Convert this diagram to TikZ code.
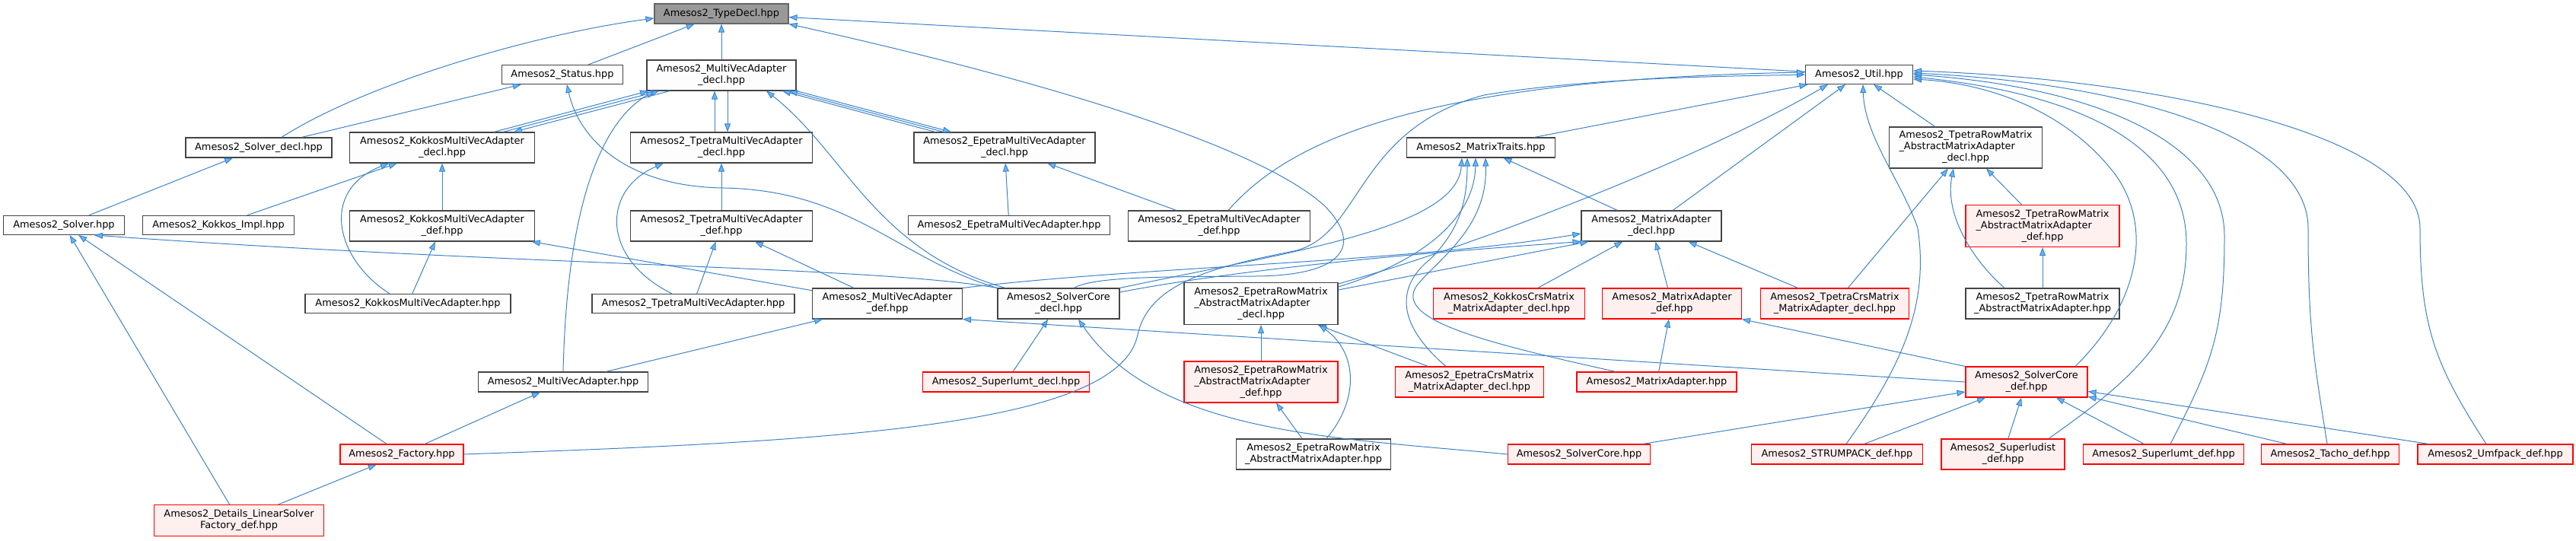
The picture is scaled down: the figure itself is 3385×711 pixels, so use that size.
\documentclass[tikz,border=0pt]{standalone}
\usepackage{fontspec}
\setmainfont{DejaVu Sans}
\usetikzlibrary{arrows.meta}
\definecolor{edgeblue}{RGB}{60,130,200}
\definecolor{tipblue}{RGB}{99,184,255}
\definecolor{boxline}{RGB}{68,68,68}
\definecolor{boxfill}{RGB}{252,253,252}
\definecolor{redfill}{RGB}{255,240,240}
\definecolor{rootfill}{RGB}{153,153,153}
\definecolor{rootline}{RGB}{102,102,102}
\newcommand{\hdrlabel}[3]{\begin{tabular}{@{}l@{}}#1\\#2\\\multicolumn{1}{@{}c@{}}{#3}\end{tabular}}

\begin{document}
\begin{tikzpicture}
  [x=1pt,y=-1pt,
   hdr/.style={draw=boxline,fill=boxfill,line width=1.1pt,inner sep=0pt,align=center,font=\fontsize{12.9}{15}\selectfont},
   bad/.style={hdr,draw=red,fill=redfill},
   root/.style={hdr,draw=rootline,fill=rootfill},
   sz/.style 2 args={minimum width=#1pt,minimum height=#2pt},
   dep/.style={draw=edgeblue,line width=1pt,-{Triangle[length=11pt,width=8pt,fill=tipblue]}}]
  \useasboundingbox (0,0) rectangle (3385,711);

  \node[root,sz={176}{26}] (typedecl) at (948,18) {Amesos2\_TypeDecl.hpp};
  \node[hdr,sz={159}{25}] (status) at (739,98) {Amesos2\_Status.hpp};
  \node[hdr,sz={196}{40}] (mvadecl) at (948,99) {Amesos2\_MultiVecAdapter\\\_decl.hpp};
  \node[hdr,sz={141}{25}] (util) at (2443,98) {Amesos2\_Util.hpp};
  \node[hdr,sz={192}{26}] (solverdecl) at (340,194) {Amesos2\_Solver\_decl.hpp};
  \node[hdr,sz={243}{40}] (kmvadecl) at (581,194) {Amesos2\_KokkosMultiVecAdapter\\\_decl.hpp};
  \node[hdr,sz={239}{40}] (tmvadecl) at (948,194) {Amesos2\_TpetraMultiVecAdapter\\\_decl.hpp};
  \node[hdr,sz={238}{40}] (emvadecl) at (1320,194) {Amesos2\_EpetraMultiVecAdapter\\\_decl.hpp};
  \node[hdr,sz={195}{26}] (traits) at (1946,194) {Amesos2\_MatrixTraits.hpp};
  \node[hdr,sz={201}{54}] (trmdecl) at (2583,194) {\hdrlabel{Amesos2\_TpetraRowMatrix}{\_AbstractMatrixAdapter}{\_decl.hpp}};
  \node[hdr,sz={159}{25}] (solver) at (84,296) {Amesos2\_Solver.hpp};
  \node[hdr,sz={199}{25}] (kokkosimpl) at (287,296) {Amesos2\_Kokkos\_Impl.hpp};
  \node[hdr,sz={243}{40}] (kmvadef) at (581,297) {Amesos2\_KokkosMultiVecAdapter\\\_def.hpp};
  \node[hdr,sz={239}{40}] (tmvadef) at (948,297) {Amesos2\_TpetraMultiVecAdapter\\\_def.hpp};
  \node[hdr,sz={265}{25}] (emvahpp) at (1326,296) {Amesos2\_EpetraMultiVecAdapter.hpp};
  \node[hdr,sz={239}{40}] (emvadef) at (1602,297) {Amesos2\_EpetraMultiVecAdapter\\\_def.hpp};
  \node[hdr,sz={184}{40}] (madecl) at (2170,297) {Amesos2\_MatrixAdapter\\\_decl.hpp};
  \node[bad,sz={202}{55}] (trmdef) at (2684,297) {\hdrlabel{Amesos2\_TpetraRowMatrix}{\_AbstractMatrixAdapter}{\_def.hpp}};
  \node[hdr,sz={270}{25}] (kmvahpp) at (536,399) {Amesos2\_KokkosMultiVecAdapter.hpp};
  \node[hdr,sz={266}{25}] (tmvahpp) at (911,399) {Amesos2\_TpetraMultiVecAdapter.hpp};
  \node[hdr,sz={197}{40}] (mvadef) at (1166,399) {Amesos2\_MultiVecAdapter\\\_def.hpp};
  \node[hdr,sz={160}{40}] (scdecl) at (1391,399) {Amesos2\_SolverCore\\\_decl.hpp};
  \node[hdr,sz={202}{55}] (ermdecl) at (1657,399) {\hdrlabel{Amesos2\_EpetraRowMatrix}{\_AbstractMatrixAdapter}{\_decl.hpp}};
  \node[bad,sz={199}{40}] (kcrsdecl) at (1983,399) {Amesos2\_KokkosCrsMatrix\\\_MatrixAdapter\_decl.hpp};
  \node[bad,sz={183}{40}] (madef) at (2197,399) {Amesos2\_MatrixAdapter\\\_def.hpp};
  \node[bad,sz={195}{40}] (tcrsdecl) at (2411,399) {Amesos2\_TpetraCrsMatrix\\\_MatrixAdapter\_decl.hpp};
  \node[hdr,sz={202}{40}] (trmhpp) at (2684,399) {Amesos2\_TpetraRowMatrix\\\_AbstractMatrixAdapter.hpp};
  \node[hdr,sz={223}{26}] (mvahpp) at (740,502) {Amesos2\_MultiVecAdapter.hpp};
  \node[bad,sz={219}{26}] (sludecl) at (1322,502) {Amesos2\_Superlumt\_decl.hpp};
  \node[bad,sz={202}{54}] (ermdef) at (1657,502) {\hdrlabel{Amesos2\_EpetraRowMatrix}{\_AbstractMatrixAdapter}{\_def.hpp}};
  \node[bad,sz={195}{40}] (ecrsdecl) at (1931,502) {Amesos2\_EpetraCrsMatrix\\\_MatrixAdapter\_decl.hpp};
  \node[bad,sz={210}{26}] (mahpp) at (2177,502) {Amesos2\_MatrixAdapter.hpp};
  \node[bad,sz={160}{40}] (scdef) at (2663,502) {Amesos2\_SolverCore\\\_def.hpp};
  \node[bad,sz={162}{26}] (factory) at (528,597) {Amesos2\_Factory.hpp};
  \node[hdr,sz={203}{40}] (ermhpp) at (1726,597) {Amesos2\_EpetraRowMatrix\\\_AbstractMatrixAdapter.hpp};
  \node[bad,sz={187}{26}] (schpp) at (2075,597) {Amesos2\_SolverCore.hpp};
  \node[bad,sz={225}{26}] (strumpack) at (2414,597) {Amesos2\_STRUMPACK\_def.hpp};
  \node[bad,sz={162}{40}] (sludist) at (2632,597) {Amesos2\_Superludist\\\_def.hpp};
  \node[bad,sz={211}{26}] (slumtdef) at (2843,597) {Amesos2\_Superlumt\_def.hpp};
  \node[bad,sz={181}{26}] (tacho) at (3062,597) {Amesos2\_Tacho\_def.hpp};
  \node[bad,sz={204}{26}] (umfpack) at (3279,597) {Amesos2\_Umfpack\_def.hpp};
  \node[bad,sz={223}{41}] (lsfdef) at (314,684) {Amesos2\_Details\_LinearSolver\\Factory\_def.hpp};

  \foreach \from/\to in {status/typedecl,solverdecl/status,mvadecl/typedecl,util/typedecl,
      solver/solverdecl,kokkosimpl/kmvadecl,kmvadef/kmvadecl,kmvahpp/kmvadef,tmvadef/tmvadecl,
      tmvahpp/tmvadef,emvahpp/emvadecl,emvadef/emvadecl,factory/mvahpp,factory/solver,
      lsfdef/factory,lsfdef/solver,mvahpp/mvadef,sludecl/scdecl,traits/util,madecl/traits,
      madecl/util,trmdecl/util,trmdef/trmdecl,trmhpp/trmdef,tcrsdecl/trmdecl,tcrsdecl/madecl,
      kcrsdecl/madecl,madef/madecl,mahpp/madef,ermdef/ermdecl,ermhpp/ermdef,ecrsdecl/ermdecl,
      schpp/scdef,strumpack/scdef,sludist/scdef,slumtdef/scdef,tacho/scdef,umfpack/scdef,
      mvadef/tmvadef,mvadef/kmvadef}
    \draw[dep] (\from) -- (\to);

  \draw[dep] ([xshift=68pt]kmvadecl.north) -- ([xshift=-96pt]mvadecl.south);
  \draw[dep] ([xshift=80pt]kmvadecl.north) -- ([xshift=-82pt]mvadecl.south);
  \draw[dep] ([xshift=-68pt]mvadecl.south) -- ([xshift=94pt]kmvadecl.north);
  \draw[dep] ([xshift=-9pt]tmvadecl.north) -- ([xshift=-9pt]mvadecl.south);
  \draw[dep] ([xshift=8pt]mvadecl.south) -- ([xshift=8pt]tmvadecl.north);
  \draw[dep] ([xshift=-91pt]emvadecl.north) -- ([xshift=80pt]mvadecl.south);
  \draw[dep] ([xshift=-80pt]emvadecl.north) -- ([xshift=89pt]mvadecl.south);
  \draw[dep] (mvadecl.south east) -- ([xshift=-70pt]emvadecl.north);
  \draw[dep] (scdef.west) -- (mvadef.south east);
  \draw[dep] (scdef.north west) -- (madef.south east);
  \draw[dep] ([yshift=18pt]ermdecl.east) -- ([xshift=10pt]madecl.south west);

  \draw[dep] ([xshift=30pt]solverdecl.north) .. controls (480,110) and (700,45) .. ([yshift=-6pt]typedecl.west);
  \draw[dep] ([xshift=20pt]scdecl.north) .. controls (1440,362) and (1550,364) .. (1650,363)
    .. controls (1770,362) and (1790,320) .. (1740,270) .. controls (1640,180) and (1300,90) .. (typedecl.south east);
  \draw[dep] (scdecl.north west) .. controls (1180,340) and (1120,250) .. (950,247)
    .. controls (820,245) and (760,180) .. ([xshift=6pt]status.south);
  \draw[dep] ([xshift=-70pt]scdecl.north) .. controls (1150,330) and (1110,200) .. ([xshift=59pt]mvadecl.south);
  \draw[dep] (scdecl.north west) .. controls (1150,350) and (700,350) .. ([xshift=40pt]solver.south);
  \draw[dep] ([xshift=-24pt]kmvahpp.north) .. controls (440,340) and (420,250) .. ([xshift=-70pt]kmvadecl.south);
  \draw[dep] ([xshift=-28pt]tmvahpp.north) .. controls (790,340) and (790,250) .. ([xshift=-76pt]tmvadecl.south);
  \draw[dep] (mvahpp.north) .. controls (745,270) and (790,160) .. ([xshift=-88pt]mvadecl.south);
  \draw[dep] (factory.east) .. controls (1100,580) and (1470,560) .. (1495,440)
    .. controls (1510,370) and (1600,350) .. (1700,330) .. controls (1790,310) and (1780,170) .. (1950,125)
    .. controls (2100,100) and (2300,100) .. (util.west);
  \draw[dep] ([xshift=12pt]emvadef.north) .. controls (1690,190) and (1850,105) .. ([yshift=3pt]util.west);
  \draw[dep] (mvadef.north east) .. controls (1500,350) and (1850,345) .. ([yshift=-10pt]madecl.west);
  \draw[dep] ([yshift=15pt]scdecl.east) .. controls (1650,350) and (1900,330) .. (madecl.south west);
  \draw[dep] (scdecl.north east) .. controls (1700,330) and (1915,300) .. ([xshift=-25pt]traits.south);
  \draw[dep] (schpp.west) .. controls (1750,575) and (1520,570) .. ([xshift=26pt]scdecl.south);
  \draw[dep] ([xshift=17pt]ermhpp.north) .. controls (1790,520) and (1780,460) .. ([xshift=76pt]ermdecl.south);
  \draw[dep] ([yshift=22pt]ermdecl.east) .. controls (1880,340) and (1938,280) .. ([xshift=-7pt]traits.south);
  \draw[dep] ([yshift=26pt]ermdecl.east) .. controls (1950,320) and (2250,200) .. ([xshift=-41pt]util.south);
  \draw[dep] ([xshift=-31pt]ecrsdecl.north) .. controls (1840,430) and (1830,380) .. (1880,340)
    .. controls (1920,300) and (1928,260) .. ([xshift=-18pt]traits.south);
  \draw[dep] ([xshift=-54pt]mahpp.north) .. controls (1950,450) and (1830,420) .. (1862,375)
    .. controls (1890,340) and (1955,300) .. ([xshift=6pt]traits.south);
  \draw[dep] ([xshift=-50pt]trmhpp.north) .. controls (2590,340) and (2555,280) .. ([xshift=-16pt]trmdecl.south);
  \draw[dep] ([xshift=12pt]strumpack.north) .. controls (2500,480) and (2535,400) .. (2520,300)
    .. controls (2500,240) and (2450,180) .. ([xshift=5pt]util.south);
  \draw[dep] ([xshift=64pt]scdef.north) .. controls (2810,400) and (2830,300) .. (2780,230)
    .. controls (2720,150) and (2620,110) .. ([yshift=-6pt]util.east);
  \draw[dep] ([xshift=60pt]sludist.north) .. controls (2800,500) and (2873,440) .. (2873,320)
    .. controls (2873,200) and (2750,125) .. ([yshift=-3pt]util.east);
  \draw[dep] ([xshift=9pt]slumtdef.north) .. controls (2905,480) and (2923,440) .. (2923,310)
    .. controls (2923,190) and (2760,115) .. (util.east);
  \draw[dep] ([xshift=-4pt]tacho.north) .. controls (3040,470) and (3033,430) .. (3033,300)
    .. controls (3033,180) and (2800,110) .. ([yshift=2pt]util.east);
  \draw[dep] ([xshift=-12pt]umfpack.north) .. controls (3200,480) and (3180,430) .. (3180,300)
    .. controls (3180,180) and (2850,105) .. ([yshift=5pt]util.east);
\end{tikzpicture}
\end{document}
